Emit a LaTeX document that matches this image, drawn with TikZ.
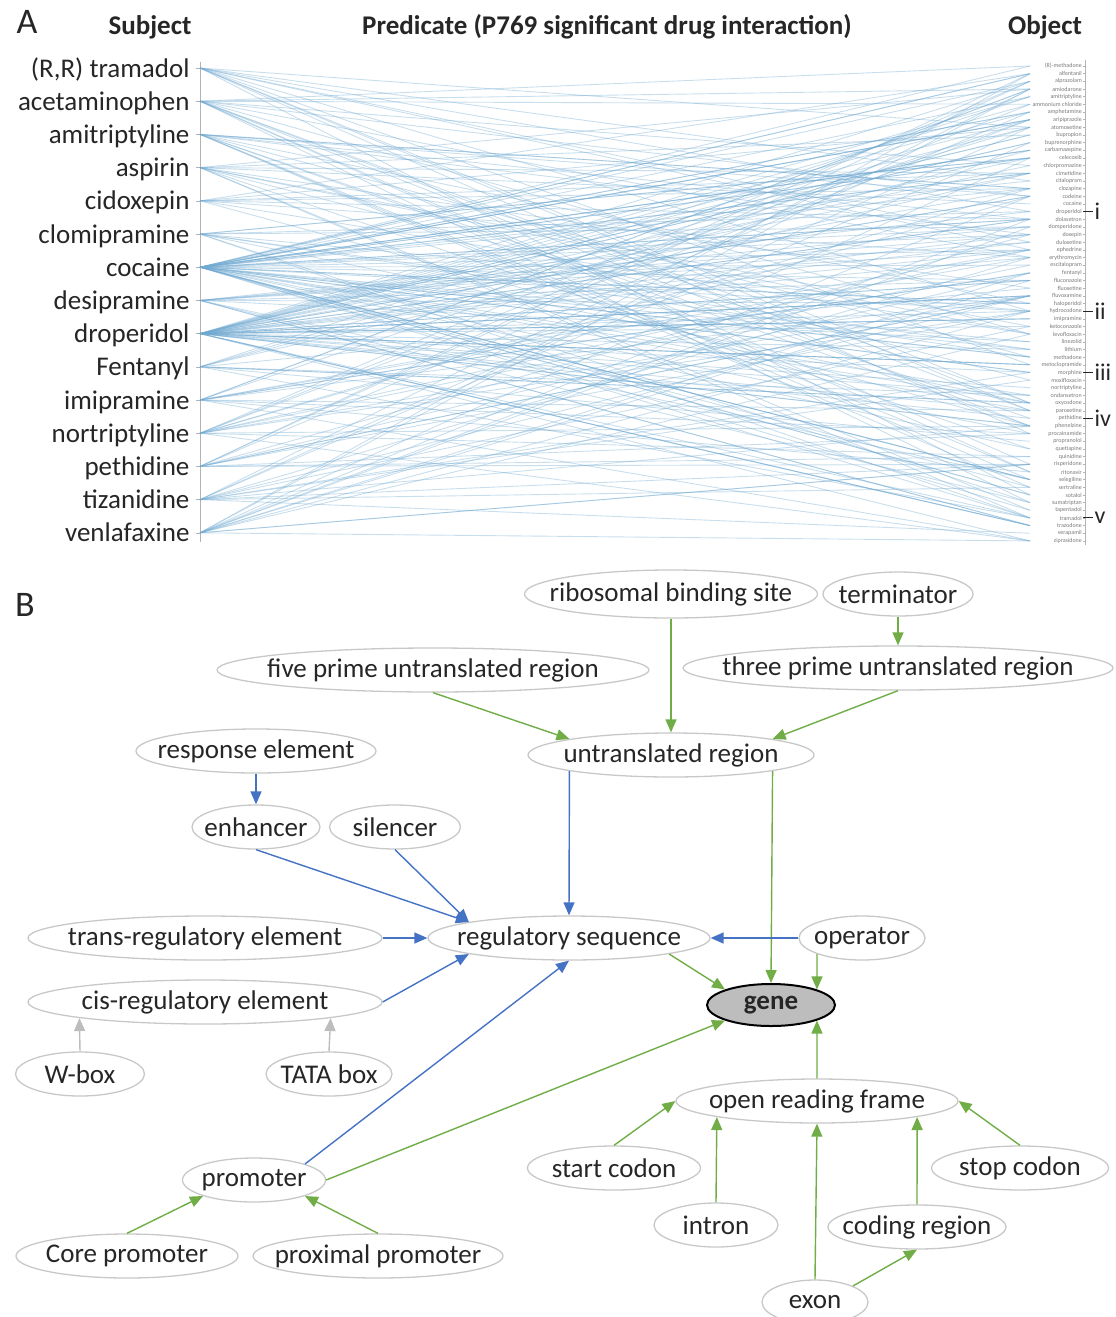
\documentclass[tikz,border=0pt]{standalone}
\usepackage{fontspec}
\setmainfont{Carlito}
\usetikzlibrary{arrows.meta,shapes.geometric}
\definecolor{ink}{HTML}{262626}
\definecolor{rim}{HTML}{C8C8C8}
\definecolor{flow}{HTML}{6FA8D0}
\definecolor{leaf}{HTML}{70AD47}
\definecolor{ctrl}{HTML}{4472C4}
\definecolor{weak}{HTML}{BDBDBD}
\definecolor{axis}{HTML}{B4B4B4}
\definecolor{muted}{HTML}{7A7A7A}
\newcommand{\tx}[1]{\makebox[0pt]{#1}}

\begin{document}
\begin{tikzpicture}[x=1pt,y=-1pt,
  ent/.style={ellipse,draw=rim,line width=1.3pt,minimum height=44,inner sep=0,text=ink,font=\fontsize{27}{30}\selectfont},
  isa/.style={-{Triangle[length=13pt,width=11pt]},line width=1.4pt},
  link/.style={flow,line width=.9pt,opacity=.38},
  head/.style={font=\bfseries\fontsize{27}{30}\selectfont,text=ink}]
  \path[use as bounding box] (0,0) rectangle (1116,1317);

  % Panel A: subjects on the left, objects on the right.
  \node[font=\fontsize{36}{36}\selectfont,text=ink] (pA) at (27,22) {A};
  \node[head] (hsub) at (150,27) {Subject};
  \node[head] (hpre) at (607,27) {Predicate (P769 significant drug interaction)};
  \node[head] (hobj) at (1045,27) {Object};
  \draw[axis,line width=1pt] (200,62) -- (200,542);
  \draw[axis,line width=1pt] (1085,60) -- (1085,545);
  \foreach \name [count=\i] in {{(R,R) tramadol},acetaminophen,amitriptyline,aspirin,cidoxepin,clomipramine,cocaine,desipramine,droperidol,Fentanyl,imipramine,nortriptyline,pethidine,tizanidine,venlafaxine}{
    \pgfmathsetmacro{\yy}{68+(\i-1)*33.2}
    \node[anchor=base east,text=ink,font=\fontsize{27}{30}\selectfont] (n\i) at (193,\yy+9) {\name};
    \coordinate (s\i) at (200,\yy);
    \draw[axis] (196,\yy) -- (s\i);
  }
  \foreach \name [count=\k from 0] in {(R)-methadone,alfentanil,alprazolam,amiodarone,amitriptyline,ammonium chloride,amphetamine,aripiprazole,atomoxetine,bupropion,buprenorphine,carbamazepine,celecoxib,chlorpromazine,cimetidine,citalopram,clozapine,codeine,cocaine,droperidol,dolasetron,domperidone,doxepin,duloxetine,ephedrine,erythromycin,escitalopram,fentanyl,fluconazole,fluoxetine,fluvoxamine,haloperidol,hydrocodone,imipramine,ketoconazole,levofloxacin,linezolid,lithium,methadone,metoclopramide,morphine,moxifloxacin,nortriptyline,ondansetron,oxycodone,paroxetine,pethidine,phenelzine,procainamide,propranolol,quetiapine,quinidine,risperidone,ritonavir,selegiline,sertraline,sotalol,sumatriptan,tapentadol,tramadol,trazodone,verapamil,ziprasidone}{
    \pgfmathsetmacro{\yy}{66+\k*7.66}
    \node[anchor=east,inner sep=1pt,text=muted,font=\fontsize{6}{6}\selectfont] (t\k) at (1083,\yy) {\name};
    \coordinate (o\k) at (1030,\yy);
    \draw[axis] (1083,\yy) -- (1085,\yy);
  }

  % interaction links, subject index / number of links
  \pgfmathsetseed{769}
  \foreach \i/\m in {1/11,2/13,3/12,4/11,5/8,6/10,7/48,8/12,9/48,10/10,11/12,12/12,13/11,14/12,15/13}{
    \foreach \j in {1,...,\m}{
      \pgfmathrandominteger{\ob}{0}{62}
      \draw[link] (s\i) -- (o\ob);
    }
  }
  \foreach \k/\mk in {19/i,32/ii,40/iii,46/iv,59/v}{
    \draw[ink,line width=1pt] (t\k.east) -- ++(10,0) node[right,inner sep=1pt,text=ink,font=\fontsize{24}{24}\selectfont] (m\k) {\mk};
  }

  % Panel B: gene parts and regulatory elements.
  \node[font=\fontsize{36}{36}\selectfont,text=ink] (pB) at (25,605) {B};
  \node[ent,minimum width=293,minimum height=48] (rbs) at (671,594) {\tx{ribosomal binding site}};
  \node[ent,minimum width=150] (term) at (898,594) {\tx{terminator}};
  \node[ent,minimum width=432] (fpu) at (433,670) {\tx{five prime untranslated region}};
  \node[ent,minimum width=430] (tpu) at (898,668) {\tx{three prime untranslated region}};
  \node[ent,minimum width=286] (utr) at (671,755) {\tx{untranslated region}};
  \node[ent,minimum width=240] (resp) at (256,751) {\tx{response element}};
  \node[ent,minimum width=128] (enh) at (256,827) {\tx{enhancer}};
  \node[ent,minimum width=131] (sil) at (395,827) {\tx{silencer}};
  \node[ent,minimum width=354] (trans) at (205,938) {\tx{trans-regulatory element}};
  \node[ent,minimum width=282] (regseq) at (569,938) {\tx{regulatory sequence}};
  \node[ent,minimum width=126] (oper) at (862,938) {\tx{operator}};
  \node[ent,minimum width=354] (cis) at (205,1002) {\tx{cis-regulatory element}};
  \node[ent,minimum width=128,minimum height=42,draw=black,line width=2pt,fill=weak,font=\bfseries\fontsize{27}{30}\selectfont] (gene) at (771,1005) {\tx{gene}};
  \node[ent,minimum width=129] (wbox) at (80,1074) {\tx{W-box}};
  \node[ent,minimum width=126] (tata) at (329,1074) {\tx{TATA box}};
  \node[ent,minimum width=282] (orf) at (817,1101) {\tx{open reading frame}};
  \node[ent,minimum width=173] (start) at (614,1168) {\tx{start codon}};
  \node[ent,minimum width=177] (stop) at (1020,1168) {\tx{stop codon}};
  \node[ent,minimum width=143] (prom) at (254,1180) {\tx{promoter}};
  \node[ent,minimum width=124] (intron) at (716,1225) {\tx{intron}};
  \node[ent,minimum width=178] (coding) at (917,1227) {\tx{coding region}};
  \node[ent,minimum width=222] (core) at (127,1256) {\tx{Core promoter}};
  \node[ent,minimum width=250] (prox) at (378,1256) {\tx{proximal promoter}};
  \node[ent,minimum width=106] (exon) at (815,1302) {\tx{exon}};

  % part-of links (green)
  \foreach \a/\b in {rbs/utr,term/tpu,fpu.south/utr.north west,tpu.south/utr.north east,
    utr.south east/gene.north,regseq.south east/gene.north west,oper.south west/gene.north east,
    prom.east/gene.south west,orf.north/gene.south east,start.north/orf.west,
    intron.north/orf.south west,exon.north/orf.south,coding.north/orf.south east,
    stop.north/orf.east,exon.north east/coding.south,core.north/prom.south west,
    prox.north/prom.south east}
    \draw[isa,leaf] (\a) -- (\b);
  % regulatory links (blue)
  \foreach \a/\b in {resp/enh,enh.south/regseq.north west,sil.south/regseq.north west,
    utr.south west/regseq.north,trans/regseq,oper/regseq,cis.east/regseq.south west,
    prom.north east/regseq.south}
    \draw[isa,ctrl] (\a) -- (\b);
  % subclass links (grey)
  \foreach \a/\b in {wbox.north/cis.south west,tata.north/cis.south east}
    \draw[isa,weak] (\a) -- (\b);
\end{tikzpicture}
\end{document}
